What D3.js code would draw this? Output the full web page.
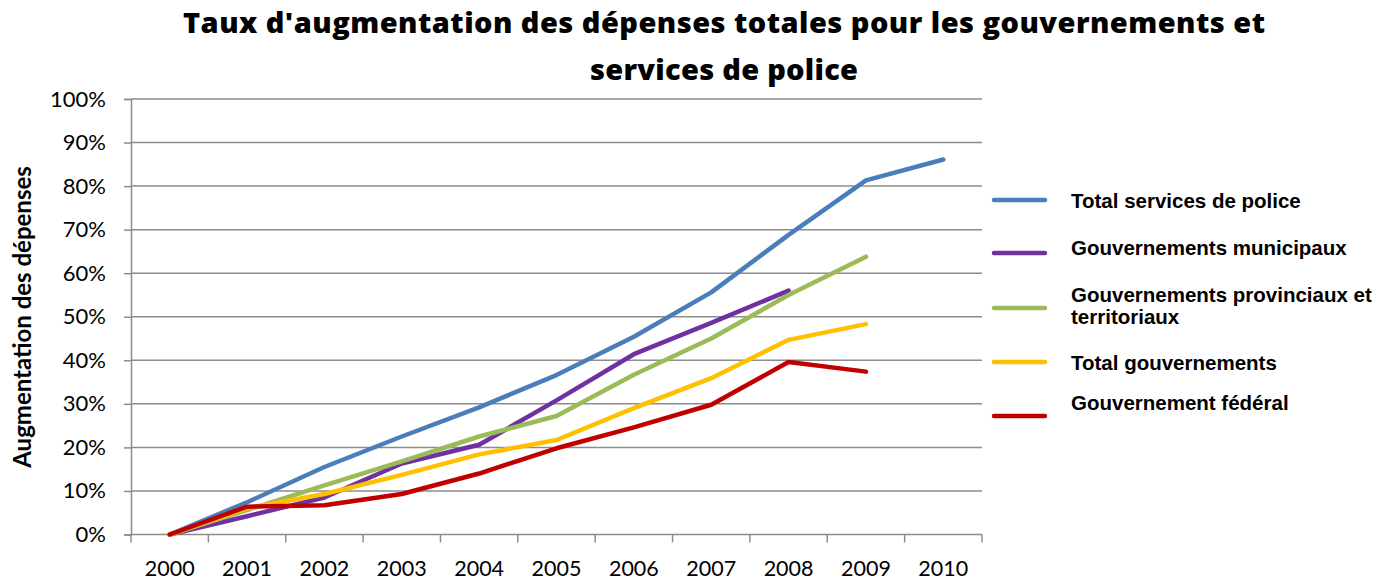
<!DOCTYPE html>
<html>
<head>
<meta charset="utf-8">
<script src="https://cdn.jsdelivr.net/npm/d3@7"></script>
<style>
  body { margin: 0; background: #fff; }
  svg { display: block; }
</style>
</head>
<body>
<script>
  // Données
  const years = ["2000", "2001", "2002", "2003", "2004", "2005", "2006", "2007", "2008", "2009", "2010"];
  const seriesNames = [
    "Total services de police",
    "Gouvernements municipaux",
    "Gouvernements provinciaux et territoriaux",
    "Total gouvernements",
    "Gouvernement fédéral"
  ];
  const policeTotal = [0, 7.4, 15.5, 22.5, 29.2, 36.6, 45.4, 55.6, 68.8, 81.3, 86.1];
  const municipal   = [0, 4.2, 8.5, 16.3, 20.6, 30.8, 41.4, 48.6, 56.0];
  const provincial  = [0, 5.6, 11.3, 16.8, 22.5, 27.2, 36.7, 45.0, 55.0, 63.8];
  const totalGov    = [0, 6.0, 9.3, 13.7, 18.4, 21.7, 29.0, 35.9, 44.7, 48.3];
  const federal     = [0, 6.4, 6.7, 9.3, 14.0, 19.8, 24.6, 29.8, 39.6, 37.4];
  const yTicks = [0, 10, 20, 30, 40, 50, 60, 70, 80, 90, 100];

  const colors = ["#4a7ebb", "#7030a0", "#9bbb59", "#ffc000", "#c00000"];
  const allValues = [policeTotal, municipal, provincial, totalGov, federal];

  const width = 1389, height = 581;
  const plot = { left: 131, right: 982, top: 99, bottom: 534.5 };
  const axisFont = "Lato, 'Open Sans', sans-serif";

  const svg = d3.select("body").append("svg")
    .attr("width", width)
    .attr("height", height);

  const x = d3.scaleBand().domain(years).range([plot.left, plot.right]);
  const y = d3.scaleLinear().domain([0, 100]).range([plot.bottom, plot.top]);

  // Grille horizontale
  svg.append("g")
    .selectAll("line")
    .data(yTicks.slice(1))
    .join("line")
    .attr("x1", plot.left)
    .attr("x2", plot.right)
    .attr("y1", d => y(d))
    .attr("y2", d => y(d))
    .attr("stroke", "#8c8c8c")
    .attr("stroke-width", 1.5);

  // Axe Y
  const yAxis = svg.append("g")
    .attr("transform", "translate(" + plot.left + ",0)")
    .call(d3.axisLeft(y).tickValues(yTicks).tickFormat(d => d + "%").tickSize(7).tickPadding(18));
  yAxis.select(".domain").attr("stroke", "#8c8c8c").attr("stroke-width", 1.5);
  yAxis.selectAll(".tick line").attr("stroke", "#8c8c8c").attr("stroke-width", 1.5);
  yAxis.selectAll("text")
    .attr("font-family", axisFont)
    .attr("font-size", 22)
    .attr("fill", "#000");

  // Axe X (ticks entre les catégories)
  const xAxisG = svg.append("g")
    .attr("transform", "translate(0," + plot.bottom + ")");
  xAxisG.append("line")
    .attr("x1", plot.left).attr("x2", plot.right)
    .attr("stroke", "#8c8c8c").attr("stroke-width", 1.5);
  const boundaries = years.map(d => x(d)).concat([x(years[years.length - 1]) + x.bandwidth()]);
  xAxisG.selectAll(".xtick")
    .data(boundaries)
    .join("line")
    .attr("class", "xtick")
    .attr("x1", d => d).attr("x2", d => d)
    .attr("y1", 0).attr("y2", 8)
    .attr("stroke", "#8c8c8c").attr("stroke-width", 1.5);
  xAxisG.selectAll(".xlabel")
    .data(years)
    .join("text")
    .attr("class", "xlabel")
    .attr("x", d => x(d) + x.bandwidth() / 2)
    .attr("y", 41)
    .attr("text-anchor", "middle")
    .attr("font-family", axisFont)
    .attr("font-size", 21.5)
    .text(d => d);

  // Lignes
  const line = d3.line()
    .x((d, i) => x(years[i]) + x.bandwidth() / 2)
    .y(d => y(d));

  svg.append("g")
    .selectAll("path")
    .data(allValues)
    .join("path")
    .attr("d", d => line(d))
    .attr("fill", "none")
    .attr("stroke", (d, i) => colors[i])
    .attr("stroke-width", 4.5)
    .attr("stroke-linejoin", "round")
    .attr("stroke-linecap", "round");

  // Titre (étiré comme dans l'original)
  const titleG = svg.append("g")
    .attr("font-family", "'Open Sans', Lato, sans-serif")
    .attr("font-weight", 800)
    .attr("font-size", 29)
    .attr("fill", "#000");
  titleG.append("text")
    .attr("x", 183).attr("y", 33)
    .attr("textLength", 1082)
    .attr("lengthAdjust", "spacing")
    .text("Taux d'augmentation des dépenses totales pour les gouvernements et");
  titleG.append("text")
    .attr("x", 590).attr("y", 80)
    .attr("textLength", 268)
    .attr("lengthAdjust", "spacing")
    .text("services de police");

  // Titre axe Y
  svg.append("text")
    .attr("transform", "translate(31," + 317 + ") rotate(-90)")
    .attr("text-anchor", "middle")
    .attr("font-family", axisFont)
    .attr("font-weight", "bold")
    .attr("font-size", 24)
    .text("Augmentation des dépenses");

  // Légende
  const legendRows = [
    { lines: [seriesNames[0]], lineY: 200, textY: 208 },
    { lines: [seriesNames[1]], lineY: 253, textY: 255 },
    { lines: ["Gouvernements provinciaux et", "territoriaux"], lineY: 308, textY: 302 },
    { lines: [seriesNames[3]], lineY: 362, textY: 370 },
    { lines: [seriesNames[4]], lineY: 416, textY: 410 }
  ];
  const legend = svg.append("g");
  legendRows.forEach((row, i) => {
    legend.append("line")
      .attr("x1", 994).attr("x2", 1045)
      .attr("y1", row.lineY).attr("y2", row.lineY)
      .attr("stroke", colors[i])
      .attr("stroke-width", 4.5)
      .attr("stroke-linecap", "round");
    const t = legend.append("text")
      .attr("font-family", "'Liberation Sans', Arial, sans-serif")
      .attr("font-weight", "bold")
      .attr("font-size", 20.5)
      .attr("fill", "#000");
    row.lines.forEach((l, k) => {
      t.append("tspan").attr("x", 1071).attr("y", row.textY + k * 21.5).text(l);
    });
  });
</script>
</body>
</html>
